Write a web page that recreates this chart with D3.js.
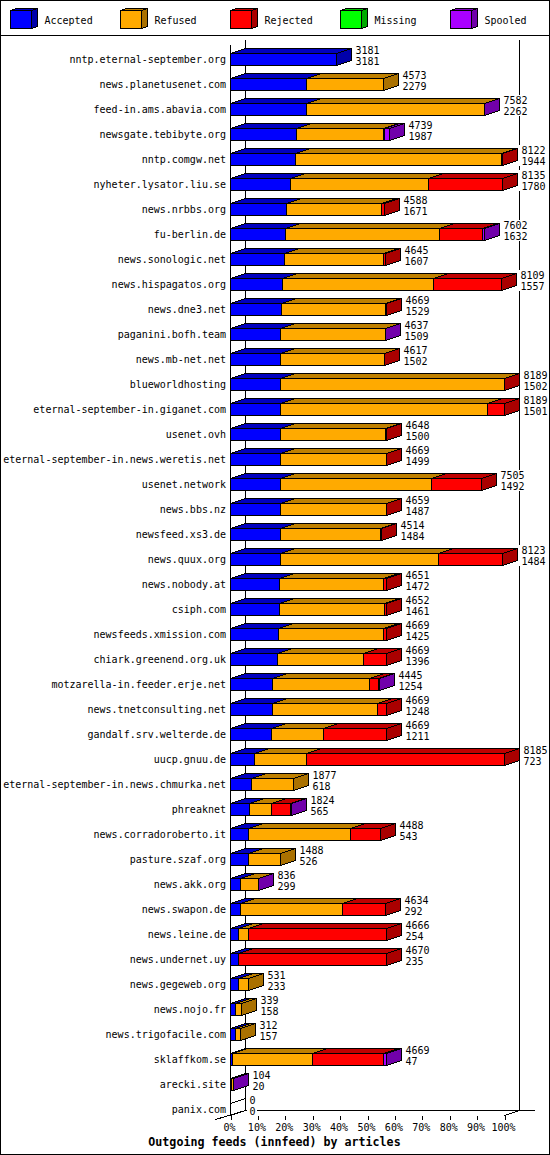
<!DOCTYPE html>
<html><head><meta charset="utf-8">
<script src="https://cdnjs.cloudflare.com/ajax/libs/d3/7.8.5/d3.min.js"></script>
<style>
html,body{margin:0;padding:0;background:#fff}
svg{display:block}
text{font-family:"DejaVu Sans Mono",monospace;font-size:10px;fill:#000}
</style></head><body><div id="chart"></div>
<script>
const hosts=["nntp.eternal-september.org","news.planetusenet.com","feed-in.ams.abavia.com","newsgate.tebibyte.org","nntp.comgw.net","nyheter.lysator.liu.se","news.nrbbs.org","fu-berlin.de","news.sonologic.net","news.hispagatos.org","news.dne3.net","paganini.bofh.team","news.mb-net.net","blueworldhosting","eternal-september-in.giganet.com","usenet.ovh","eternal-september-in.news.weretis.net","usenet.network","news.bbs.nz","newsfeed.xs3.de","news.quux.org","news.nobody.at","csiph.com","newsfeeds.xmission.com","chiark.greenend.org.uk","motzarella-in.feeder.erje.net","news.tnetconsulting.net","gandalf.srv.welterde.de","uucp.gnuu.de","eternal-september-in.news.chmurka.net","phreaknet","news.corradoroberto.it","pasture.szaf.org","news.akk.org","news.swapon.de","news.leine.de","news.undernet.uy","news.gegeweb.org","news.nojo.fr","news.trigofacile.com","sklaffkom.se","arecki.site","panix.com"];
const accepted=[3181,2279,2262,1987,1944,1780,1671,1632,1607,1557,1529,1509,1502,1502,1501,1500,1499,1492,1487,1484,1484,1472,1461,1425,1396,1254,1248,1211,723,618,565,543,526,299,292,254,235,233,158,157,47,20,0];
const refused=[0,2294,5318,2593,6168,4150,2849,4618,2973,4513,3111,3111,3105,6678,6169,3138,3160,4518,3162,3010,4746,3108,3149,3155,2574,2896,3142,1559,1547,1259,675,3037,962,530,3058,296,0,298,181,155,2390,60,0];
const rejected=[0,0,0,30,10,2205,68,1270,65,2039,29,0,10,9,519,10,10,1495,10,20,1893,71,42,89,699,280,279,1899,5915,0,560,908,0,0,1284,4116,4435,0,0,0,2150,0,0];
const missing=[0,0,0,0,0,0,0,0,0,0,0,0,0,0,0,0,0,0,0,0,0,0,0,0,0,0,0,0,0,0,0,0,0,0,0,0,0,0,0,0,0,0,0];
const spooled=[0,0,2,129,0,0,0,82,0,0,0,17,0,0,0,0,0,0,0,0,0,0,0,0,0,15,0,0,0,0,24,0,0,7,0,0,0,0,0,0,82,24,0];
const seriesNames=["Accepted","Refused","Rejected","Missing","Spooled"];
const seriesValues=[accepted,refused,rejected,missing,spooled];
const frontColors=["#0000ff","#ffaa00","#ff0000","#00ff00","#aa00ff"];
const topColors=["#0000bf","#bf8000","#bf0000","#00bf00","#8000bf"];
const sideColors=["#0000aa","#aa7100","#aa0000","#00aa00","#7100aa"];
const pctTicks=[0,10,20,30,40,50,60,70,80,90,100];
const title="Outgoing feeds (innfeed) by articles";
const maxArticles=8189;

const W=550,H=1155,DX=15,DY=5,BAR_H=12;
const svg=d3.select("#chart").append("svg").attr("width",W).attr("height",H).attr("shape-rendering","crispEdges");
const x=d3.scaleLinear().domain([0,maxArticles]).range([230.5,504.5]);
const pct=d3.scaleLinear().domain([0,100]).range([230.5,504.5]);
const y=d3.scalePoint().domain(hosts).range([53.5,1103.5]);
const snap=v=>Math.floor(v)+0.5;
const line=(g,x1,y1,x2,y2)=>g.append("line").attr("x1",x1).attr("y1",y1).attr("x2",x2).attr("y2",y2).attr("stroke","#000");
const poly=(g,pts,fill)=>g.append("polygon").attr("points",pts.map(p=>p.join(",")).join(" ")).attr("fill",fill).attr("stroke","#000");
const [x0,x1]=x.range();
const floorY=y.range()[1]+BAR_H-5;

// frame
svg.append("rect").attr("x",.5).attr("y",.5).attr("width",W-1).attr("height",H-1).attr("fill","#fff").attr("stroke","#000");
line(svg,0,35.5,W,35.5);

// legend
const legendX=d3.scalePoint().domain(seriesNames).range([10.5,450.5]);
seriesNames.forEach((n,i)=>{
  const g=svg.append("g"),lx=legendX(n),ly=10.5,w=21,h=18,dx=6,dy=2;
  poly(g,[[lx,ly],[lx+dx,ly-dy],[lx+w+dx,ly-dy],[lx+w,ly]],topColors[i]);
  poly(g,[[lx+w,ly],[lx+w+dx,ly-dy],[lx+w+dx,ly+h-dy],[lx+w,ly+h]],sideColors[i]);
  g.append("rect").attr("x",lx).attr("y",ly).attr("width",w).attr("height",h).attr("fill",frontColors[i]).attr("stroke","#000");
  g.append("text").attr("x",lx+34).attr("y",23.5).text(n);
});

// walls and floor
const frame=svg.append("g");
line(frame,x0,45,x0,floorY+5);
line(frame,x0+DX,40,x0+DX,floorY);
line(frame,x1+DX,40,x1+DX,floorY);
line(frame,x0+DX,floorY,535,floorY);
line(frame,x0-15,floorY+9,x0+DX,floorY);
line(frame,x1,floorY+5,x1+DX,floorY);

// x axis
const axis=d3.axisBottom(pct).tickValues(pctTicks).tickFormat(d=>d+"%").tickSize(4).tickSizeOuter(0);
const ax=svg.append("g").attr("transform",`translate(0,${floorY+5})`).call(axis);
ax.select(".domain").remove();
ax.selectAll(".tick text").attr("dy",0).attr("dx",-1.5).attr("y",15.5).attr("font-size",null).attr("font-family",null);
ax.selectAll(".tick line").attr("stroke","#000");

// rows
hosts.forEach((h,r)=>{
  const g=svg.append("g"),t=y(h),b=t+BAR_H;
  g.append("text").attr("x",226).attr("y",t+9.5).attr("text-anchor","end").text(h);
  let cum=0,last=-1;
  seriesValues.forEach((vals,s)=>{
    const v=vals[r];
    if(!v) return;
    const a=snap(x(cum)),e=snap(x(cum+v));
    poly(g,[[a,t],[a+DX,t-DY],[e+DX,t-DY],[e,t]],topColors[s]);
    g.append("rect").attr("x",a).attr("y",t).attr("width",e-a).attr("height",BAR_H).attr("fill",frontColors[s]).attr("stroke","#000");
    cum+=v;last=s;
  });
  const e=snap(x(cum));
  poly(g,[[e,t],[e+DX,t-DY],[e+DX,b-DY],[e,b]],last<0?"none":sideColors[last]);
  const lx=e+DX+4;
  const lab=[cum,accepted[r]].map(String);
  const wid=d3.max(lab,l=>l.length)*6;
  g.append("rect").attr("x",e+DX+1).attr("y",t-8.5).attr("width",wid+4).attr("height",21).attr("fill","#fff");
  g.append("text").attr("x",lx).attr("y",t).text(lab[0]);
  g.append("text").attr("x",lx).attr("y",t+11).text(lab[1]);
});

// title
svg.append("text").attr("x",274.5).attr("y",1145.5).attr("text-anchor","middle")
  .style("font-weight","bold").style("font-size","11.65px").text(title);
</script></body></html>
